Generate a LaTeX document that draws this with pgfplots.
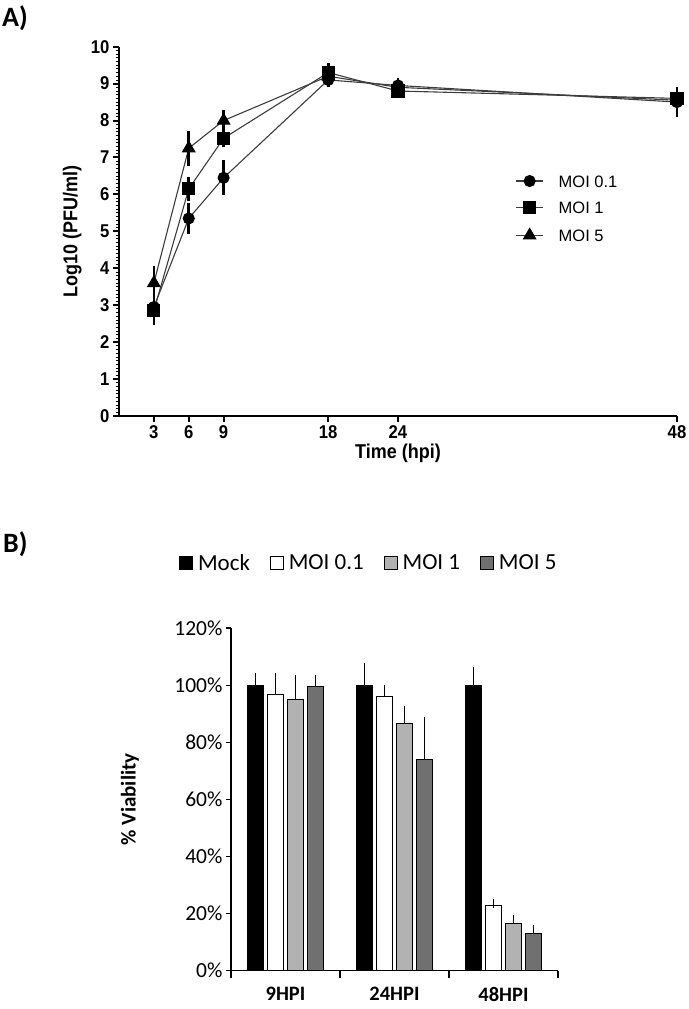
\documentclass[border=0pt]{standalone}
\usepackage{fontspec}
\usepackage{pgfplots}
\pgfplotsset{compat=1.18}
\setmainfont{Liberation Sans}
\newfontfamily\arialn[FakeStretch=0.9]{Liberation Sans}
\newfontfamily\carlito{Carlito}
\definecolor{lightbar}{RGB}{178,178,178}
\definecolor{darkbar}{RGB}{112,112,112}
\definecolor{linegray}{RGB}{60,60,60}

\begin{document}
\begin{tikzpicture}
\path[use as bounding box] (0pt,0pt) rectangle (688pt,1009pt);
\node[anchor=north west, inner sep=0pt, font=\carlito\bfseries\fontsize{28}{30}\selectfont] at (2pt,1003pt) {A)};
\node[anchor=north west, inner sep=0pt, font=\carlito\bfseries\fontsize{28}{30}\selectfont] at (3pt,477pt) {B)};

% ---------------- A) growth curve ----------------
\begin{axis}[
  at={(119pt,593pt)}, anchor=south west,
  scale only axis, width=558pt, height=369.3pt,
  xmin=0, xmax=48, ymin=0, ymax=10,
  clip=false,
  axis lines=left, axis line style={line width=2pt, -},
  xtick={3,6,9,18,24,48}, ytick={0,1,...,10},
  minor y tick num=9,
  tick align=outside, major tick length=6pt, minor tick length=3pt,
  major tick style={line width=2pt, black}, minor tick style={line width=0.8pt, black},
  ticklabel style={font=\arialn\bfseries\fontsize{18.5}{18.5}\selectfont},
  /pgf/number format/assume math mode=true,
  xlabel={Time (hpi)}, ylabel={Log10 (PFU/ml)},
  label style={font=\arialn\bfseries\fontsize{20}{20}\selectfont},
  ylabel style={at={(axis description cs:-0.084,0.5)}, anchor=center},
  xlabel style={at={(axis description cs:0.5,-0.102)}, anchor=center},
  legend style={at={(axis cs:34.1,6.53)}, anchor=north west, draw=none, fill=none,
    inner sep=0pt, font=\fontsize{16.5}{16.5}\selectfont,
    nodes={inner sep=0pt, text height=12pt, text depth=0pt}, row sep=14.7pt, column sep=0pt},
  legend cell align=left,
  legend image code/.code={\draw[mark repeat=2,mark phase=2] plot coordinates {(0pt,0pt) (13.5pt,0pt) (27pt,0pt)}; \path (42pt,0pt);},
]
\addplot[linegray, line width=1.1pt, mark=*, mark size=5.5pt, mark options={fill=black, draw=black, solid},
  error bars/.cd, y dir=both, y explicit, error bar style={line width=2.6pt, black}, error mark options={line width=2.6pt, mark size=5.5pt, black}]
  coordinates {(3,2.95) +- (0,0.15) (6,5.35) +- (0,0.27) (9,6.45) +- (0,0.32) (18,9.10) +- (0,0.05) (24,8.95) +- (0,0.05) (48,8.50) +- (0,0.25)};
\addlegendentry{MOI 0.1}
\addplot[linegray, line width=1.1pt, mark=square*, mark size=6pt, mark options={fill=black, draw=black, solid},
  error bars/.cd, y dir=both, y explicit, error bar style={line width=2.6pt, black}, error mark options={line width=2.6pt, mark size=5.5pt, black}]
  coordinates {(3,2.85) +- (0,0.25) (6,6.15) +- (0,0.17) (9,7.52) +- (0,0.1) (18,9.30) +- (0,0.1) (24,8.80) +- (0,0.05) (48,8.60) +- (0,0.05)};
\addlegendentry{MOI 1}
\addplot[linegray, line width=1.1pt, mark=triangle*, mark size=7pt, mark options={fill=black, draw=black, solid},
  error bars/.cd, y dir=both, y explicit, error bar style={line width=2.6pt, black}, error mark options={line width=2.6pt, mark size=5.5pt, black}]
  coordinates {(3,3.60) +- (0,0.3) (6,7.25) +- (0,0.33) (9,8.00) +- (0,0.15) (18,9.20) +- (0,0.1) (24,8.90) +- (0,0.05) (48,8.55) +- (0,0.05)};
\addlegendentry{MOI 5}
\end{axis}

% ---------------- B) viability ----------------
\begin{axis}[
  at={(231pt,38.3pt)}, anchor=south west,
  scale only axis, width=327pt, height=342.7pt,
  xmin=-0.5, xmax=2.5, ymin=0, ymax=120,
  clip=false,
  axis lines=left, axis line style={line width=1.2pt, -},
  ybar=4.5pt, bar width=15.5pt,
  xtick={0,1,2}, xticklabels={9HPI,24HPI,48HPI},
  minor xtick={-0.5,0.5,1.5,2.5},
  major x tick style={draw=none},
  minor x tick style={line width=1.2pt, black},
  minor tick length=7pt,
  ytick={0,20,...,120},
  yticklabel={\pgfmathprintnumber{\tick}\%},
  /pgf/number format/assume math mode=true,
  tick align=outside, major tick length=5pt,
  major y tick style={line width=1.2pt, black},
  yticklabel style={font=\carlito\fontsize{21.5}{21.5}\selectfont},
  xticklabel style={font=\carlito\bfseries\fontsize{20.5}{20.5}\selectfont, yshift=-8pt},
  ylabel={\% Viability},
  ylabel style={font=\carlito\bfseries\fontsize{21}{21}\selectfont, at={(axis description cs:-0.309,0.5)}, anchor=center},
  legend columns=4,
  legend style={at={(axis description cs:-0.159,1.1897)}, anchor=west, draw=none, fill=none,
    inner sep=0pt, font=\carlito\fontsize{23}{23}\selectfont,
    nodes={inner sep=0pt}, column sep=5pt,
    /tikz/every even column/.append style={column sep=20pt}},
  legend image code/.code={\draw[#1, line width=0.8pt] (0pt,-6.5pt) rectangle (13pt,6.5pt);},
]
\addplot[fill=black, draw=black, line width=0.8pt,
  error bars/.cd, y dir=plus, y explicit, error bar style={line width=0.8pt, black}, error mark options={line width=0.8pt, mark size=4.5pt, black}]
  coordinates {(0,100) +- (0,2.6) (1,100) +- (0,6.2) (2,100) +- (0,4.6)};
\addlegendentry{Mock}
\addplot[fill=white, draw=black, line width=0.8pt,
  error bars/.cd, y dir=plus, y explicit, error bar style={line width=0.8pt, black}, error mark options={line width=0.8pt, mark size=4.5pt, black}]
  coordinates {(0,96.6) +- (0,6.1) (1,96.0) +- (0,2.6) (2,23.0) +- (0,0.4)};
\addlegendentry{MOI 0.1}
\addplot[fill=lightbar, draw=black, line width=0.8pt,
  error bars/.cd, y dir=plus, y explicit, error bar style={line width=0.8pt, black}, error mark options={line width=0.8pt, mark size=4.5pt, black}]
  coordinates {(0,95.1) +- (0,7.0) (1,86.6) +- (0,4.5) (2,16.5) +- (0,1.6)};
\addlegendentry{MOI 1}
\addplot[fill=darkbar, draw=black, line width=0.8pt,
  error bars/.cd, y dir=plus, y explicit, error bar style={line width=0.8pt, black}, error mark options={line width=0.8pt, mark size=4.5pt, black}]
  coordinates {(0,99.6) +- (0,2.5) (1,74.1) +- (0,13.0) (2,13.0) +- (0,1.6)};
\addlegendentry{MOI 5}
\end{axis}
\end{tikzpicture}
\end{document}
